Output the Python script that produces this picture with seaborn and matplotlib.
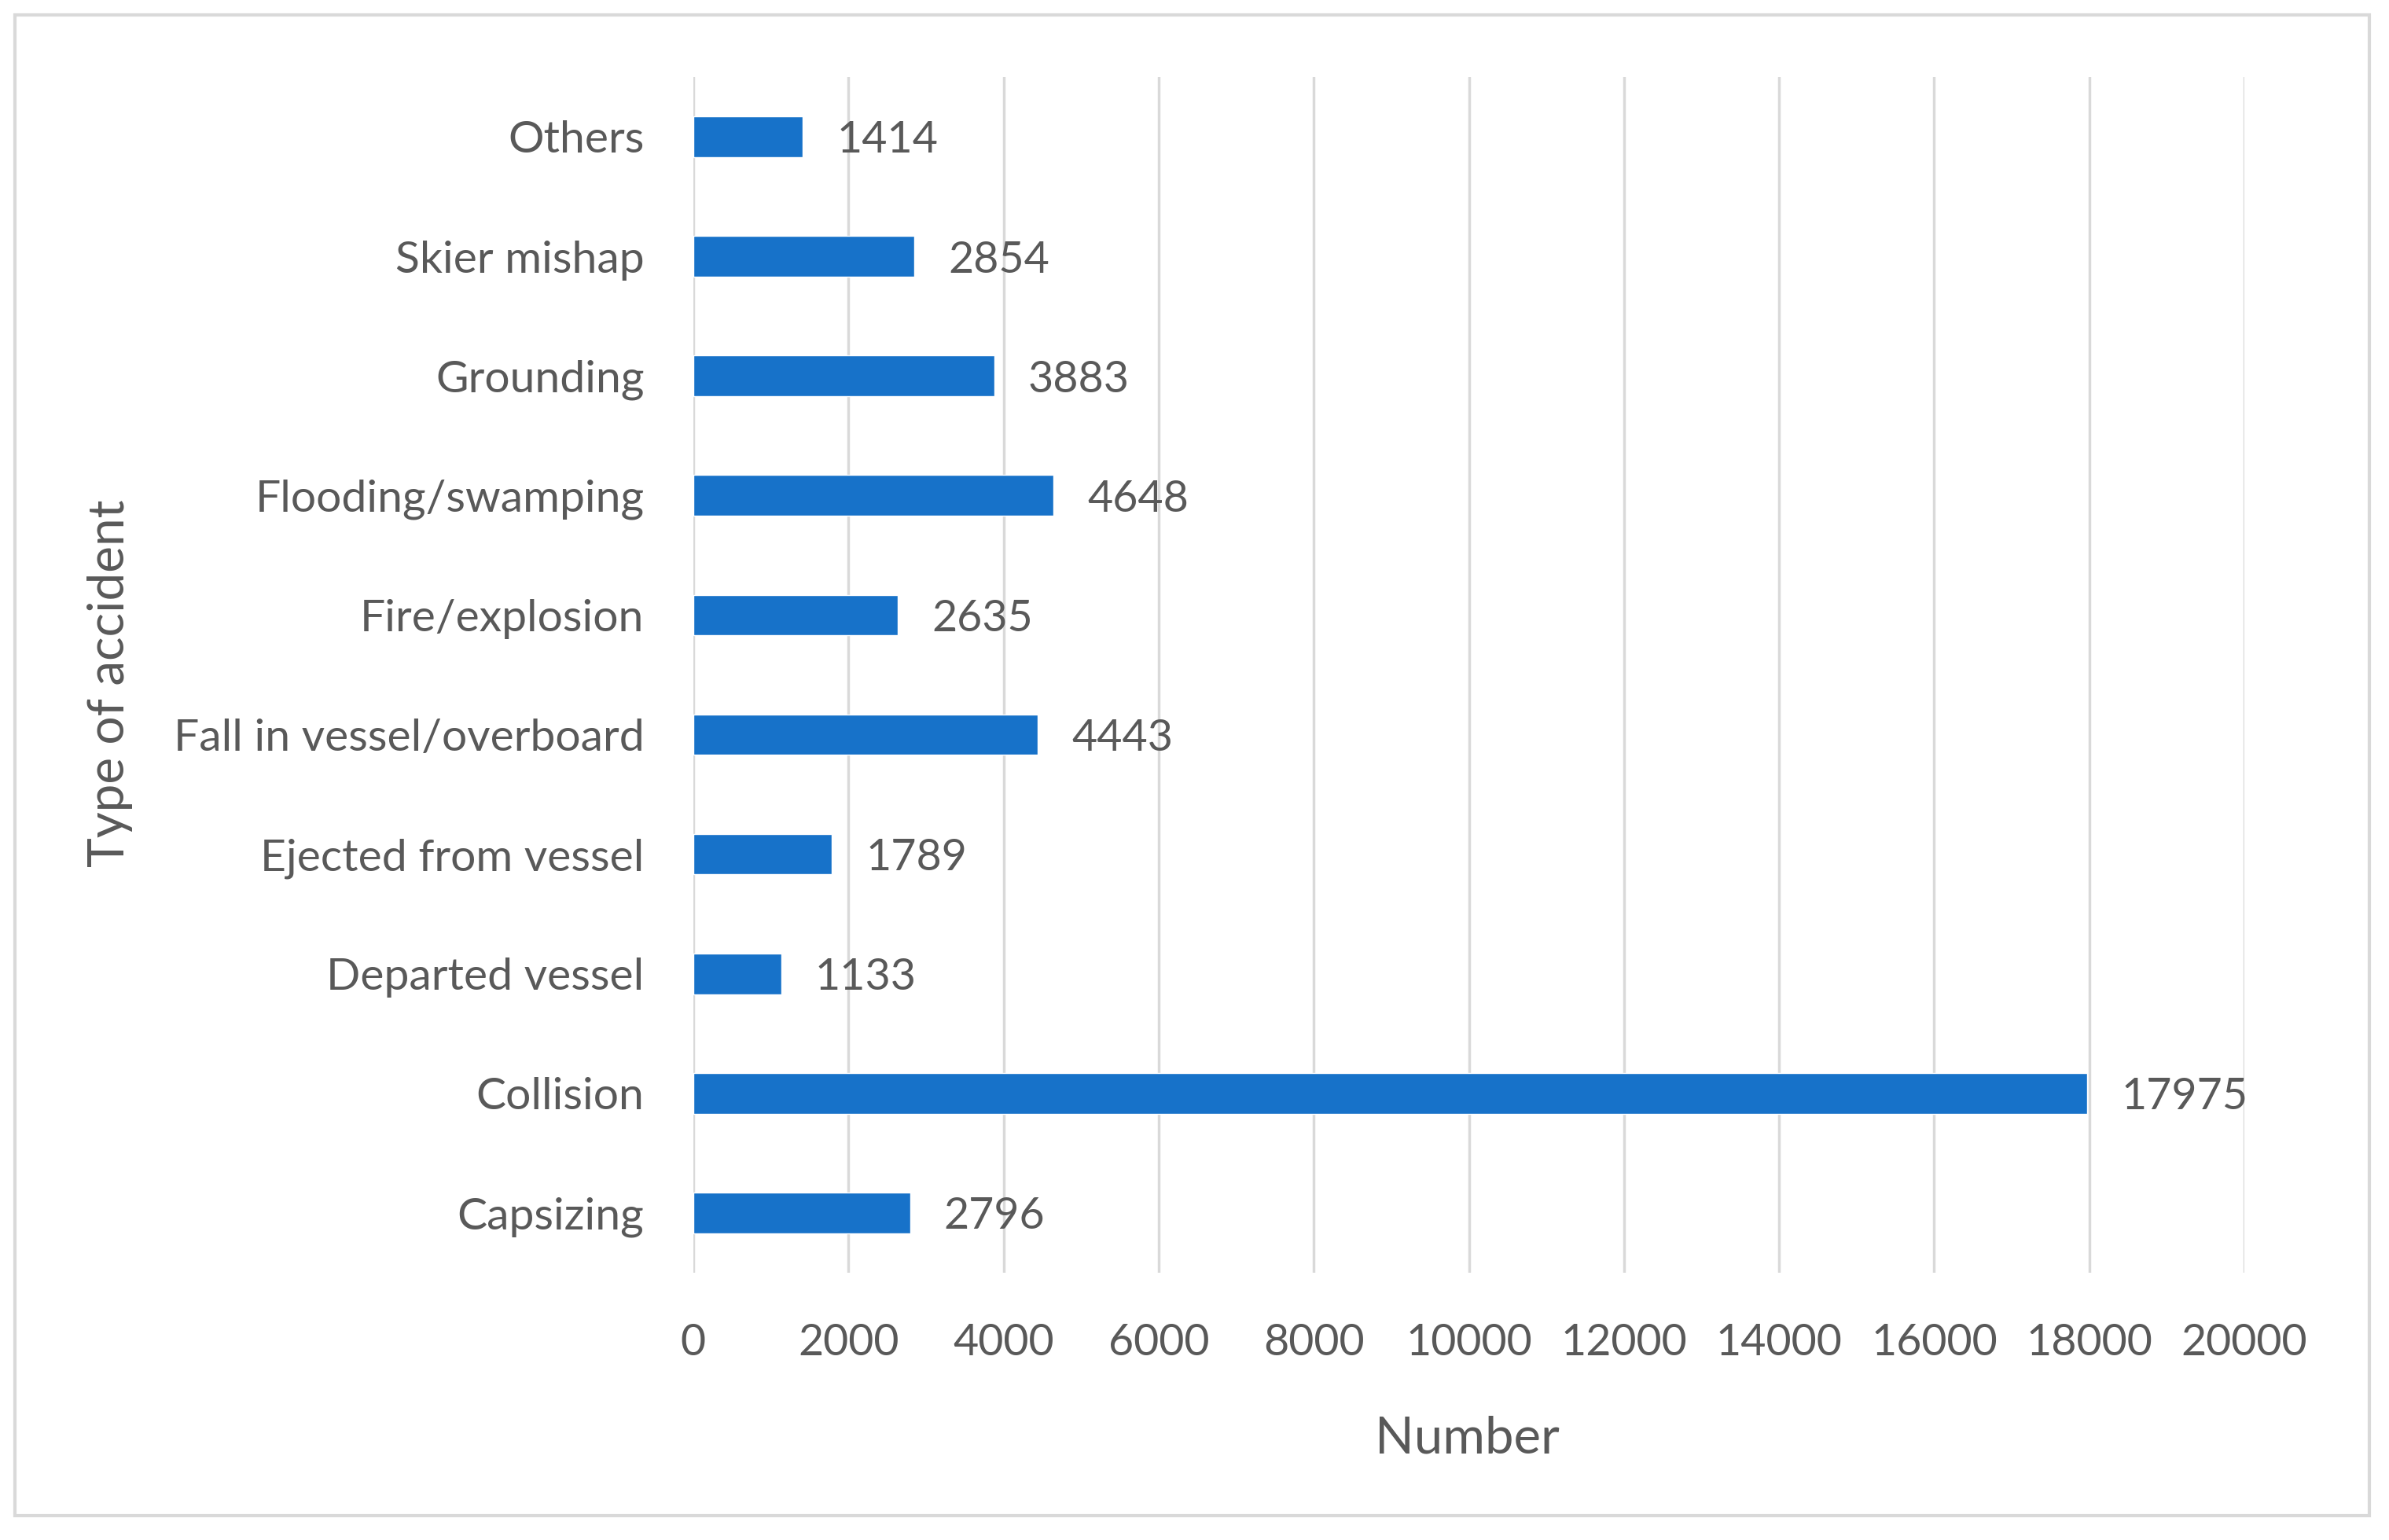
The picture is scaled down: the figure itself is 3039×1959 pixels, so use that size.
import matplotlib
matplotlib.use("Agg")
import matplotlib.pyplot as plt
import seaborn as sns
import pandas as pd
from matplotlib.patches import Rectangle

# data, top to bottom as drawn
accident_types = ["Others", "Skier mishap", "Grounding", "Flooding/swamping",
                  "Fire/explosion", "Fall in vessel/overboard", "Ejected from vessel",
                  "Departed vessel", "Collision", "Capsizing"]
counts = [1414, 2854, 3883, 4648, 2635, 4443, 1789, 1133, 17975, 2796]
x_ticks = [0, 2000, 4000, 6000, 8000, 10000, 12000, 14000, 16000, 18000, 20000]

df = pd.DataFrame({"type": accident_types, "count": counts})

sns.set_theme(style="white")
plt.rcParams["font.family"] = ["Lato", "DejaVu Sans"]
text_col = "#595959"
bar_col = "#1772C9"

fig = plt.figure(figsize=(30.39, 19.59), dpi=100)
ax = fig.add_axes([0.2902, 0.1736, 0.6493, 0.7764])

sns.barplot(data=df, x="count", y="type", order=accident_types, color=bar_col,
            width=0.34, saturation=1, ax=ax)

ax.set_xlim(0, 20000)
ax.set_ylim(9.5, -0.5)
ax.set_xticks(x_ticks)
ax.xaxis.grid(True, color="#d9d9d9", linewidth=2.5)
ax.set_axisbelow(True)
for s in ax.spines.values():
    s.set_visible(False)
ax.tick_params(axis="both", length=0, labelcolor=text_col)
ax.tick_params(axis="y", pad=45, labelsize=41)
ax.tick_params(axis="x", pad=46, labelsize=40)

labels = ax.bar_label(ax.containers[0], fmt="%d", padding=31, fontsize=40, color=text_col)
for t in labels:
    t.set_verticalalignment("center_baseline")

ax.set_xlabel("Number", fontsize=47, color=text_col, va="center")
ax.set_ylabel("Type of accident", fontsize=46, color=text_col, va="center")
ax.xaxis.set_label_coords(0.4987, -0.139)
ax.yaxis.set_label_coords(-0.376, 0.493)

# light outer frame like the exported chart area
fig.patches.append(Rectangle((0.00625, 0.0158), 0.9855, 0.9745, transform=fig.transFigure,
                             fill=False, edgecolor="#d9d9d9", linewidth=3))

fig.savefig("out.png", dpi=100, facecolor="white")
